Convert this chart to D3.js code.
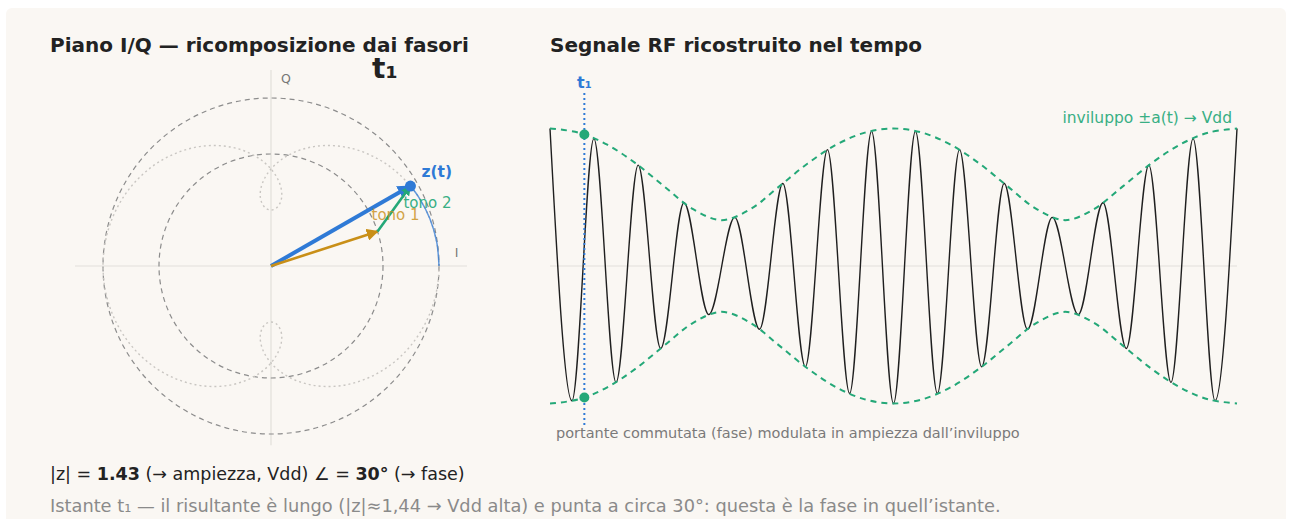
<!DOCTYPE html>
<html>
<head>
<meta charset="utf-8">
<script src="https://cdn.jsdelivr.net/npm/d3@7"></script>
<style>
  html, body { margin: 0; padding: 0; background: #ffffff; }
  body { width: 1290px; height: 519px; overflow: hidden; font-family: "DejaVu Sans", sans-serif; }
  svg text { font-family: "DejaVu Sans", sans-serif; }
</style>
</head>
<body>
<script>
// phasors (amplitude, angle in degrees) at instant t1
let toneNames = ["tono 1", "tono 2"];
let toneAmps = [1, 0.5];
let toneAngles = [18, 54];
let t1 = 18;

// reference circles on the IQ plane
let circleRadii = [1, 1.5];

// locus of z(t), first quadrant (I, Q)
let locusQ1 = [
  [1.5, 0], [1.479, 0.217], [1.418, 0.424], [1.320, 0.612], [1.190, 0.775],
  [1.036, 0.906], [0.866, 1.0], [0.690, 1.057], [0.516, 1.076], [0.354, 1.061],
  [0.210, 1.016], [0.091, 0.949], [0, 0.866], [-0.060, 0.777], [-0.091, 0.690],
  [-0.095, 0.612], [-0.076, 0.552], [-0.042, 0.513], [0, 0.5]
];

// RF signal: carrier peaks (time, value)
let rfPeakT = [0, 11.5, 23, 34.6, 46.2, 58, 70.2, 83.2, 96.8, 109.8, 122, 133.8, 145.4, 157, 168.5,
  180, 191.5, 203, 214.6, 226.2, 238, 250.2, 263.2, 276.8, 289.8, 302, 313.8, 325.4, 337, 348.5, 360];
let rfPeakV = [1.5, -1.47, 1.39, -1.27, 1.10, -0.90, 0.69, -0.53, 0.53, -0.69, 0.90, -1.10, 1.27, -1.39, 1.47,
  -1.5, 1.47, -1.39, 1.27, -1.10, 0.90, -0.69, 0.53, -0.53, 0.69, -0.90, 1.10, -1.27, 1.39, -1.47, 1.5];

// envelope a(t)
let envT = [0, 15, 30, 45, 60, 75, 90, 105, 120, 135, 150, 165, 180,
  195, 210, 225, 240, 255, 270, 285, 300, 315, 330, 345, 360];
let envA = [1.5, 1.455, 1.323, 1.118, 0.866, 0.620, 0.5, 0.620, 0.866, 1.118, 1.323, 1.455, 1.5,
  1.455, 1.323, 1.118, 0.866, 0.620, 0.5, 0.620, 0.866, 1.118, 1.323, 1.455, 1.5];

let colBlue = "#2f7ad6", colGold = "#c98f17", colGreen = "#24a878", colGrey = "#8c8c8c";

let svg = d3.select("body").append("svg")
  .attr("width", 1290)
  .attr("height", 519);

svg.append("rect")
  .attr("x", 6).attr("y", 8)
  .attr("width", 1280).attr("height", 530)
  .attr("rx", 6)
  .attr("fill", "#faf7f3");

let defs = svg.append("defs");
function addArrow(id, color, size) {
  defs.append("marker")
    .attr("id", id)
    .attr("viewBox", "0 0 10 10")
    .attr("refX", 9).attr("refY", 5)
    .attr("markerWidth", size).attr("markerHeight", size)
    .attr("markerUnits", "userSpaceOnUse")
    .attr("orient", "auto")
    .append("path")
    .attr("d", "M0,0 L10,5 L0,10 z")
    .attr("fill", color);
}
addArrow("arrBlue", colBlue, 14);
addArrow("arrGold", colGold, 12);
addArrow("arrGreen", colGreen, 10);

// ---------- left: IQ plane ----------
let x = d3.scaleLinear().domain([-1.75, 1.75]).range([75, 467]);
let y = d3.scaleLinear().domain([-1.75, 1.75]).range([462, 70]);
let r = d3.scaleLinear().domain([0, 1]).range([0, x(1) - x(0)]);

let left = svg.append("g");

left.append("text")
  .attr("x", 50).attr("y", 52)
  .attr("font-size", 20).attr("font-weight", "bold")
  .attr("fill", "#222")
  .text("Piano I/Q — ricomposizione dai fasori");

left.append("line")
  .attr("x1", x(-1.75)).attr("x2", x(1.75))
  .attr("y1", y(0)).attr("y2", y(0))
  .attr("stroke", "#e2dfdb").attr("stroke-width", 1.2);
left.append("line")
  .attr("x1", x(0)).attr("x2", x(0))
  .attr("y1", y(1.75)).attr("y2", y(-1.6))
  .attr("stroke", "#e2dfdb").attr("stroke-width", 1.2);

left.append("text")
  .attr("x", x(0) + 10).attr("y", y(1.63))
  .attr("font-size", 12.5).attr("fill", "#777")
  .text("Q");
left.append("text")
  .attr("x", x(1.64)).attr("y", y(0.08))
  .attr("font-size", 12.5).attr("fill", "#777")
  .text("I");

left.selectAll("circle.ref")
  .data(circleRadii)
  .enter()
  .append("circle")
  .attr("class", "ref")
  .attr("cx", x(0)).attr("cy", y(0))
  .attr("r", d => r(d))
  .attr("fill", "none")
  .attr("stroke", colGrey).attr("stroke-width", 1.2)
  .attr("stroke-dasharray", "5,4");

// full locus built from the first quadrant by symmetry
let upper = locusQ1.concat(locusQ1.slice(0, -1).reverse().map(p => [-p[0], p[1]]));
let lower = upper.slice(1, -1).reverse().map(p => [p[0], -p[1]]);
let locus = upper.concat(lower);

let iqLine = d3.line().x(d => x(d[0])).y(d => y(d[1]));

left.append("path")
  .datum(locus)
  .attr("d", iqLine.curve(d3.curveCatmullRomClosed))
  .attr("fill", "none")
  .attr("stroke", "#c9c6c2").attr("stroke-width", 1.4)
  .attr("stroke-dasharray", "2,3");

// phasor tips
let tips = [];
let cx0 = 0, cy0 = 0;
for (let i = 0; i < toneAmps.length; i++) {
  let a = toneAngles[i] * Math.PI / 180;
  let nx = cx0 + toneAmps[i] * Math.cos(a);
  let ny = cy0 + toneAmps[i] * Math.sin(a);
  tips.push({ x0: cx0, y0: cy0, x1: nx, y1: ny });
  cx0 = nx; cy0 = ny;
}
let zMag = Math.hypot(cx0, cy0);

// trail of z(t) up to t1
let trail = locusQ1.filter((p, i) => i * 5 < t1).concat([[cx0, cy0]]);
left.append("path")
  .datum(trail)
  .attr("d", iqLine.curve(d3.curveCatmullRom))
  .attr("fill", "none")
  .attr("stroke", colBlue).attr("stroke-width", 1.5)
  .attr("opacity", 0.75);

left.append("line")
  .attr("x1", x(0)).attr("y1", y(0))
  .attr("x2", x(cx0)).attr("y2", y(cy0))
  .attr("stroke", colBlue).attr("stroke-width", 4)
  .attr("marker-end", "url(#arrBlue)");

let toneCols = [colGold, colGreen];
let toneArrows = ["arrGold", "arrGreen"];
left.selectAll("line.tone")
  .data(tips)
  .enter()
  .append("line")
  .attr("class", "tone")
  .attr("x1", d => x(d.x0)).attr("y1", d => y(d.y0))
  .attr("x2", d => x(d.x1)).attr("y2", d => y(d.y1))
  .attr("stroke", (d, i) => toneCols[i])
  .attr("stroke-width", 2.6)
  .attr("marker-end", (d, i) => "url(#" + toneArrows[i] + ")");

left.append("circle")
  .attr("cx", x(cx0)).attr("cy", y(cy0))
  .attr("r", 5.5)
  .attr("fill", colBlue);

left.append("text")
  .attr("x", x(cx0) + 11).attr("y", y(cy0) - 9)
  .attr("font-size", 15.5).attr("font-weight", "bold")
  .attr("fill", colBlue)
  .text("z(t)");

left.append("text")
  .attr("x", x(tips[0].x1) - 6).attr("y", y(tips[0].y1) - 11)
  .attr("font-size", 15).attr("fill", colGold).attr("opacity", 0.8)
  .text(toneNames[0]);
left.append("text")
  .attr("x", x(tips[1].x1) - 7).attr("y", y(tips[1].y1) + 22)
  .attr("font-size", 15).attr("fill", colGreen).attr("opacity", 0.9)
  .text(toneNames[1]);

left.append("text")
  .attr("x", 372).attr("y", 78)
  .attr("font-size", 28).attr("font-weight", "bold")
  .attr("fill", "#222")
  .text("t₁");

// ---------- right: RF signal ----------
let xt = d3.scaleLinear().domain([0, 360]).range([550, 1237]);
let ys = d3.scaleLinear().domain([-1.5, 1.5]).range([403.5, 128.5]);

let right = svg.append("g");

right.append("text")
  .attr("x", 550).attr("y", 52)
  .attr("font-size", 20).attr("font-weight", "bold")
  .attr("fill", "#222")
  .text("Segnale RF ricostruito nel tempo");

right.append("line")
  .attr("x1", xt(0)).attr("x2", xt(360))
  .attr("y1", ys(0)).attr("y2", ys(0))
  .attr("stroke", "#e2dfdb").attr("stroke-width", 1.2);

let rfData = rfPeakT.map((t, i) => [t, rfPeakV[i]]);
right.append("path")
  .datum(rfData)
  .attr("d", d3.line().x(d => xt(d[0])).y(d => ys(d[1])).curve(d3.curveMonotoneX))
  .attr("fill", "none")
  .attr("stroke", "#1f1f1f").attr("stroke-width", 1.4);

[1, -1].forEach(function (s) {
  right.append("path")
    .datum(envT.map((t, i) => [t, s * envA[i]]))
    .attr("d", d3.line().x(d => xt(d[0])).y(d => ys(d[1])).curve(d3.curveCatmullRom))
    .attr("fill", "none")
    .attr("stroke", colGreen).attr("stroke-width", 2)
    .attr("stroke-dasharray", "6,5");
});

right.append("line")
  .attr("x1", xt(t1)).attr("x2", xt(t1))
  .attr("y1", 93).attr("y2", 426)
  .attr("stroke", colBlue).attr("stroke-width", 2)
  .attr("stroke-dasharray", "2,3");

right.append("text")
  .attr("x", xt(t1)).attr("y", 88)
  .attr("text-anchor", "middle")
  .attr("font-size", 16).attr("font-weight", "bold")
  .attr("fill", colBlue)
  .text("t₁");

right.selectAll("circle.env")
  .data([zMag, -zMag])
  .enter()
  .append("circle")
  .attr("class", "env")
  .attr("cx", xt(t1)).attr("cy", d => ys(d))
  .attr("r", 5)
  .attr("fill", colGreen);

right.append("text")
  .attr("x", 1232).attr("y", 123)
  .attr("text-anchor", "end")
  .attr("font-size", 15.5).attr("fill", colGreen).attr("opacity", 0.9)
  .text("inviluppo ±a(t) → Vdd");

right.append("text")
  .attr("x", 556).attr("y", 438)
  .attr("font-size", 14.5).attr("fill", "#7a7a7a")
  .text("portante commutata (fase) modulata in ampiezza dall’inviluppo");

// ---------- readout ----------
let line1 = svg.append("text")
  .attr("x", 50).attr("y", 480)
  .attr("font-size", 17.5).attr("fill", "#222");
line1.append("tspan").text("|z| = ");
line1.append("tspan").attr("font-weight", "bold").text("1.43");
line1.append("tspan").text(" (→ ampiezza, Vdd) ∠ = ");
line1.append("tspan").attr("font-weight", "bold").text("30°");
line1.append("tspan").text(" (→ fase)");

svg.append("text")
  .attr("x", 50).attr("y", 512)
  .attr("font-size", 17.8).attr("fill", "#8a8a8a")
  .text("Istante t₁ — il risultante è lungo (|z|≈1,44 → Vdd alta) e punta a circa 30°: questa è la fase in quell’istante.");
</script>
</body>
</html>
